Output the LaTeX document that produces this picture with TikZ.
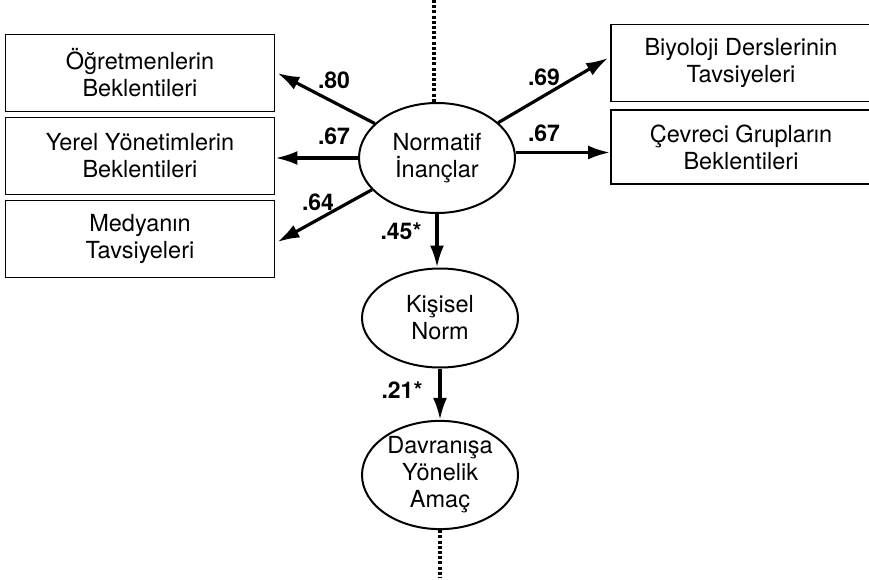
\documentclass[tikz,border=0pt]{standalone}
\usepackage{fontspec}
\setmainfont{TeX Gyre Heros}
\usetikzlibrary{shapes.geometric, arrows.meta, positioning}

\tikzset{
  obsbox/.style={draw, line width=1.8pt, minimum width=269pt, minimum height=77pt, inner sep=0pt, align=center, font=\fontsize{23.5}{27}\selectfont},
  latent/.style={draw, ellipse, line width=2pt, minimum width=156pt, inner sep=0pt, align=center, font=\fontsize{23.5}{27}\selectfont},
  path/.style={line width=3.2pt, -{Latex[length=22pt, width=14pt]}},
  coef/.style={font=\bfseries\fontsize{23}{26}\selectfont, inner sep=0pt},
  dotline/.style={line width=3.2pt, dash pattern=on 3pt off 2.2pt}
}

\begin{document}
\begin{tikzpicture}[x=1pt, y=-1pt]
\useasboundingbox (0, 0) rectangle (869, 580);
% indicators
\node [obsbox] (ogr) at (140, 73) {Öğretmenlerin\\Beklentileri};
\node [obsbox] (yer) at (140, 156) {Yerel Yönetimlerin\\Beklentileri};
\node [obsbox] (med) at (140, 239) {Medyanın\\Tavsiyeleri};
\node [obsbox, minimum width=260pt] (biy) at (741, 63) {Biyoloji Derslerinin\\Tavsiyeleri};
\node [obsbox, minimum width=260pt, minimum height=74pt] (cev) at (741, 147) {Çevreci Grupların\\Beklentileri};
% latent variables
\node [latent, minimum height=110pt] (norm) at (437, 158) {Normatif\\İnançlar};
\node [latent, minimum height=99pt] (kis) at (440, 318) {Kişisel\\Norm};
\node [latent, minimum height=105pt] (dav) at (440, 475) {Davranışa\\Yönelik\\Amaç};
% paths
\draw [path] (norm.151) -- ([xshift=2pt]ogr.east);
\draw [path] (norm.west) -- (norm.west -| yer.east);
\draw [path] (norm.206) -- ([xshift=2pt, yshift=-3pt]med.east);
\draw [path] (norm.30) -- ([xshift=-2pt, yshift=5pt]biy.west);
\draw [path] (norm.4) -- (norm.4 -| cev.west);
\draw [path] (norm.south) -- (norm.south |- kis.north);
\draw [path] (kis.south) -- (dav.north);
% coefficients
\node [coef] (c80) at (334, 80) {.80};
\node [coef] (c67a) at (334, 136) {.67};
\node [coef] (c64) at (318, 202) {.64};
\node [coef] (c69) at (544, 77) {.69};
\node [coef] (c67b) at (544, 133) {.67};
\node [coef] (c45) at (401, 231) {.45*};
\node [coef] (c21) at (402, 390) {.21*};
% dotted continuations
\coordinate (top) at (434, 0);
\coordinate (bot) at (442, 577);
\draw [dotline] (top) -- (top |- norm.north);
\draw [dotline] (dav.south) -- (dav.south |- bot);
\end{tikzpicture}
\end{document}
